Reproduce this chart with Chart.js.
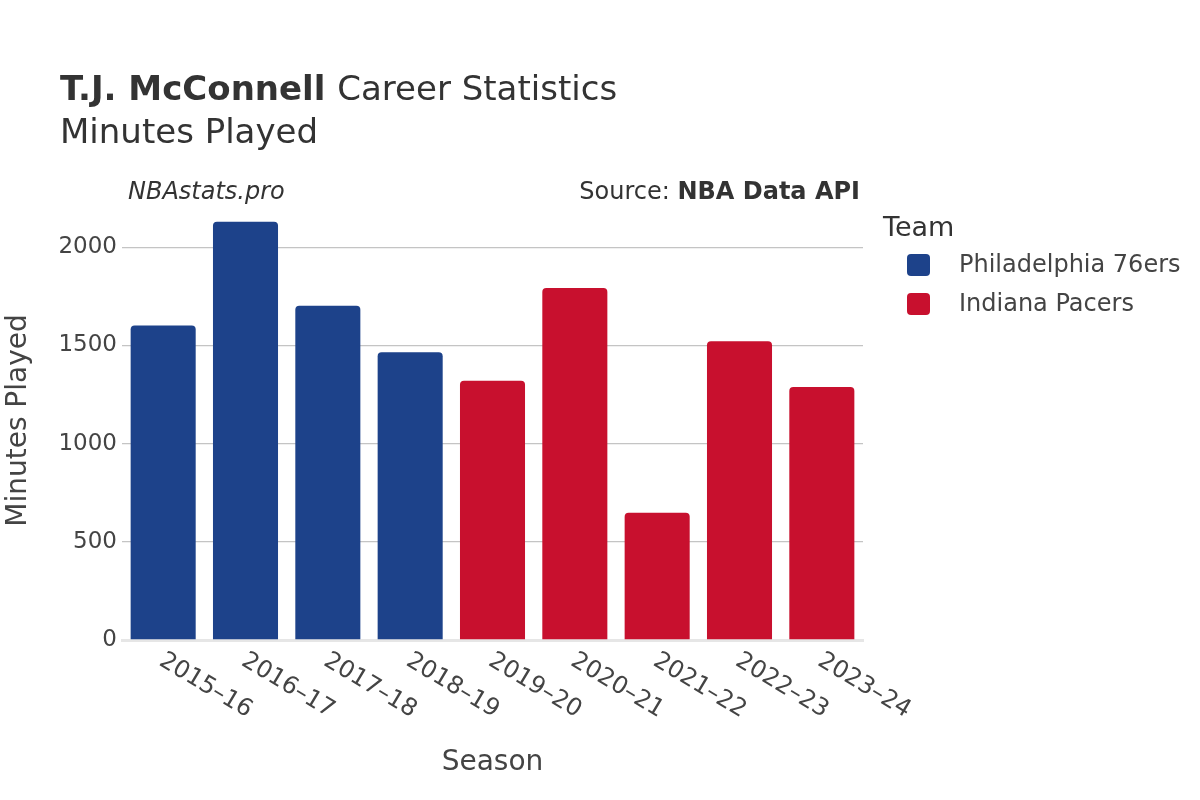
<!DOCTYPE html>
<html>
<head>
<meta charset="utf-8">
<script src="https://cdn.jsdelivr.net/npm/chart.js@4"></script>
<style>
html,body{margin:0;padding:0;background:#fff;}
#wrap{width:1200px;height:800px;position:relative;}
</style>
</head>
<body>
<div id="wrap"><canvas id="c" width="1200" height="800"></canvas></div>
<script>
const seasons = ["2015–16","2016–17","2017–18","2018–19","2019–20","2020–21","2021–22","2022–23","2023–24"];
const phiMinutes = [1602, 2130, 1702, 1466, null, null, null, null, null];
const indMinutes = [null, null, null, null, 1321, 1793, 648, 1522, 1288];
const teamNames = ["Philadelphia 76ers", "Indiana Pacers"];
const teamColors = ["#1d428a", "#c8102e"];
const yTicks = [0, 500, 1000, 1500, 2000];

const FONT = "'DejaVu Sans', sans-serif";

const textPlugin = {
  id: 'texts',
  afterDraw(chart) {
    const ctx = chart.ctx;
    const area = chart.chartArea;
    const xs = chart.scales.x;
    ctx.save();
    // Title
    ctx.fillStyle = '#333';
    ctx.textBaseline = 'alphabetic';
    ctx.textAlign = 'left';
    ctx.font = 'bold 34px ' + FONT;
    const boldPart = 'T.J. McConnell';
    ctx.fillText(boldPart, 60, 100);
    const bw = ctx.measureText(boldPart + ' ').width;
    ctx.font = '34px ' + FONT;
    ctx.fillText('Career Statistics', 60 + bw, 100);
    ctx.fillText('Minutes Played', 60, 143);

    // Watermark and source
    ctx.font = 'italic 24px ' + FONT;
    ctx.fillText('NBAstats.pro', 128, 199);
    ctx.textAlign = 'right';
    ctx.font = 'bold 24px ' + FONT;
    const src = 'NBA Data API';
    ctx.fillText(src, 860, 199);
    const sw = ctx.measureText(src).width;
    ctx.font = '24px ' + FONT;
    ctx.fillText('Source: ', 860 - sw, 199);

    // Legend
    ctx.textAlign = 'left';
    ctx.font = '27px ' + FONT;
    ctx.fillStyle = '#333';
    ctx.fillText('Team', 883, 236);
    const rows = [265, 304];
    teamNames.forEach((n, i) => {
      ctx.fillStyle = teamColors[i];
      ctx.beginPath();
      ctx.roundRect(907, rows[i] - 11, 23, 22, 4);
      ctx.fill();
      ctx.fillStyle = '#444';
      ctx.font = '24px ' + FONT;
      ctx.textBaseline = 'middle';
      ctx.fillText(n, 959, rows[i] + 1);
      ctx.textBaseline = 'alphabetic';
    });

    // Axis titles
    ctx.fillStyle = '#444';
    ctx.font = '28px ' + FONT;
    ctx.textAlign = 'center';
    ctx.fillText('Season', (area.left + area.right) / 2, 770);
    ctx.save();
    ctx.translate(26, (area.top + area.bottom) / 2);
    ctx.rotate(-Math.PI / 2);
    ctx.fillText('Minutes Played', 0, 0);
    ctx.restore();

    // Rotated x tick labels
    ctx.font = '24px ' + FONT;
    ctx.textAlign = 'left';
    ctx.textBaseline = 'middle';
    ctx.fillStyle = '#444';
    seasons.forEach((s, i) => {
      const px = xs.getPixelForValue(i);
      ctx.save();
      ctx.translate(px - 2, area.bottom + 19);
      ctx.rotate(31 * Math.PI / 180);
      ctx.fillText(s, 0, 0);
      ctx.restore();
    });
    ctx.restore();
  }
};

new Chart(document.getElementById('c'), {
  type: 'bar',
  data: {
    labels: seasons,
    datasets: [
      { label: teamNames[0], data: phiMinutes, backgroundColor: teamColors[0], borderRadius: 4, borderSkipped: 'bottom', barPercentage: 0.79, categoryPercentage: 1 },
      { label: teamNames[1], data: indMinutes, backgroundColor: teamColors[1], borderRadius: 4, borderSkipped: 'bottom', barPercentage: 0.79, categoryPercentage: 1 }
    ]
  },
  options: {
    responsive: false,
    animation: false,
    layout: { padding: { top: 201, bottom: 160, left: 0, right: 337 } },
    plugins: { legend: { display: false }, title: { display: false }, tooltip: { enabled: false } },
    scales: {
      x: {
        stacked: true,
        ticks: { display: false },
        grid: { display: false, drawTicks: false },
        border: { display: true, color: '#e6e6e6', width: 3 },
        afterFit: s => { s.height = 0; }
      },
      y: {
        stacked: true,
        min: 0,
        max: 2236,
        afterBuildTicks: s => { s.ticks = yTicks.map(v => ({ value: v })); },
        ticks: { color: '#444', font: { family: FONT, size: 23 }, padding: 5, callback: v => String(v) },
        grid: { color: ctx => ctx.tick && ctx.tick.value === 0 ? 'rgba(0,0,0,0)' : '#c4c4c4', lineWidth: 1.3, drawTicks: false },
        border: { display: false },
        afterFit: s => { s.width = 122; }
      }
    }
  },
  plugins: [textPlugin]
});
</script>
</body>
</html>
